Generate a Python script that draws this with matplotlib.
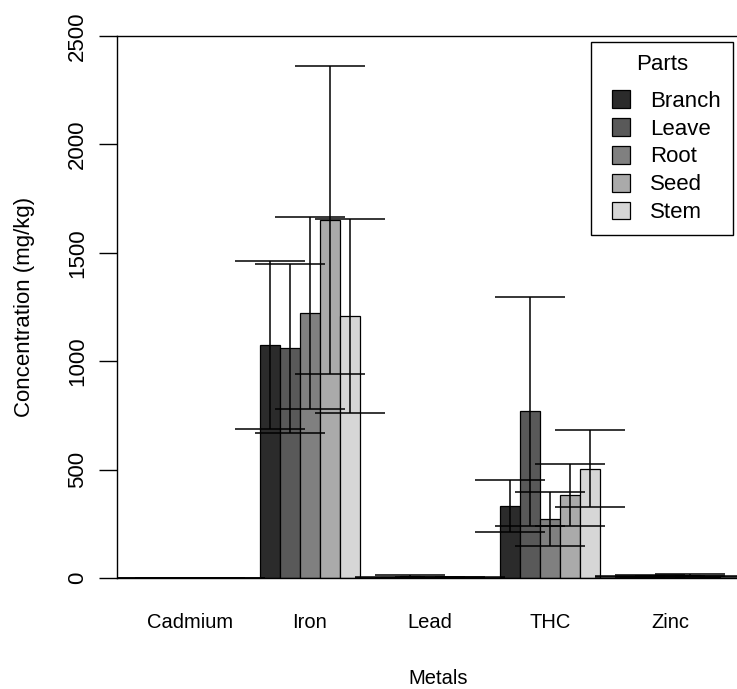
import numpy as np
import matplotlib.pyplot as plt
from matplotlib.patches import Patch, Rectangle
from matplotlib.legend_handler import HandlerPatch

plt.rcParams['font.family'] = ['Liberation Sans', 'DejaVu Sans']

# data
metals = ['Cadmium', 'Iron', 'Lead', 'THC', 'Zinc']
parts = ['Branch', 'Leave', 'Root', 'Seed', 'Stem']
colors = ['#2b2b2b', '#595959', '#808080', '#aaaaaa', '#d6d6d6']

# mean concentration (mg/kg), one list per part, in the order of metals
means = {
    'Branch': [0.05, 1075, 3, 330, 8],
    'Leave':  [0.05, 1060, 7, 770, 9],
    'Root':   [0.05, 1222, 3, 272, 8],
    'Seed':   [0.05, 1650, 4, 383, 12],
    'Stem':   [0.05, 1208, 2, 505, 6],
}
# standard deviations
sds = {
    'Branch': [0.02, 386, 1, 120, 3],
    'Leave':  [0.02, 390, 5, 528, 3],
    'Root':   [0.02, 441, 1, 124, 3],
    'Seed':   [0.02, 710, 2, 141, 5],
    'Stem':   [0.02, 446, 1, 177, 2],
}

W, H = 737, 689
fig = plt.figure(figsize=(W / 100, H / 100), dpi=100)
# axes right edge runs past the figure like in the reference
ax = fig.add_axes([117 / W, (H - 578) / H, 643 / W, 542 / H])

bar_w = 1.0
cap = 1.75
for i, p in enumerate(parts):
    x = np.array([1 + 6 * g + i + 0.5 for g in range(len(metals))])
    m = np.array(means[p])
    s = np.array(sds[p])
    ax.bar(x, m, width=bar_w, color=colors[i], edgecolor='black', linewidth=0.9, zorder=2)
    ax.vlines(x, m - s, m + s, color='black', linewidth=1.1, zorder=3)
    ax.hlines(m + s, x - cap, x + cap, color='black', linewidth=1.1, zorder=3)
    ax.hlines(m - s, x - cap, x + cap, color='black', linewidth=1.1, zorder=3)

ax.set_xlim(-0.15, 32)
ax.set_ylim(0, 2500)

ax.set_xticks([1 + 6 * g + 2.5 for g in range(len(metals))])
ax.set_xticklabels(metals, fontsize=14.5)
ax.tick_params(axis='x', length=0, pad=25)
ax.set_yticks([0, 500, 1000, 1500, 2000, 2500])
ax.tick_params(axis='y', length=13, width=1, pad=8, labelsize=16, labelrotation=90)
for lab in ax.get_yticklabels():
    lab.set_va('center')

for sp in ax.spines.values():
    sp.set_linewidth(1)

ax.set_xlabel('Metals', fontsize=14.5, labelpad=27)
ax.set_ylabel('Concentration (mg/kg)', fontsize=16, labelpad=23)


# square key placed at the right end of a wider handle box
def square_key(legend, orig_handle, xdescent, ydescent, width, height, fontsize):
    side = 0.8 * fontsize
    return Rectangle((-xdescent + width - side, -ydescent + (height - side) / 2), side, side)


handles = [Patch(facecolor=c, edgecolor='black', linewidth=0.9) for c in colors]
leg = fig.legend(handles, parts, title='Parts', loc='upper right',
                 bbox_to_anchor=(733 / W, 1 - 42 / H), borderaxespad=0,
                 fontsize=16, title_fontsize=16, frameon=True, fancybox=False,
                 edgecolor='black', framealpha=1, handlelength=1.22, handleheight=0.8,
                 handletextpad=0.9, labelspacing=0.3, borderpad=0.55,
                 handler_map={Patch: HandlerPatch(patch_func=square_key)})
leg.get_frame().set_linewidth(1)
leg._legend_box.sep = 11

fig.savefig('out.png', dpi=100)
